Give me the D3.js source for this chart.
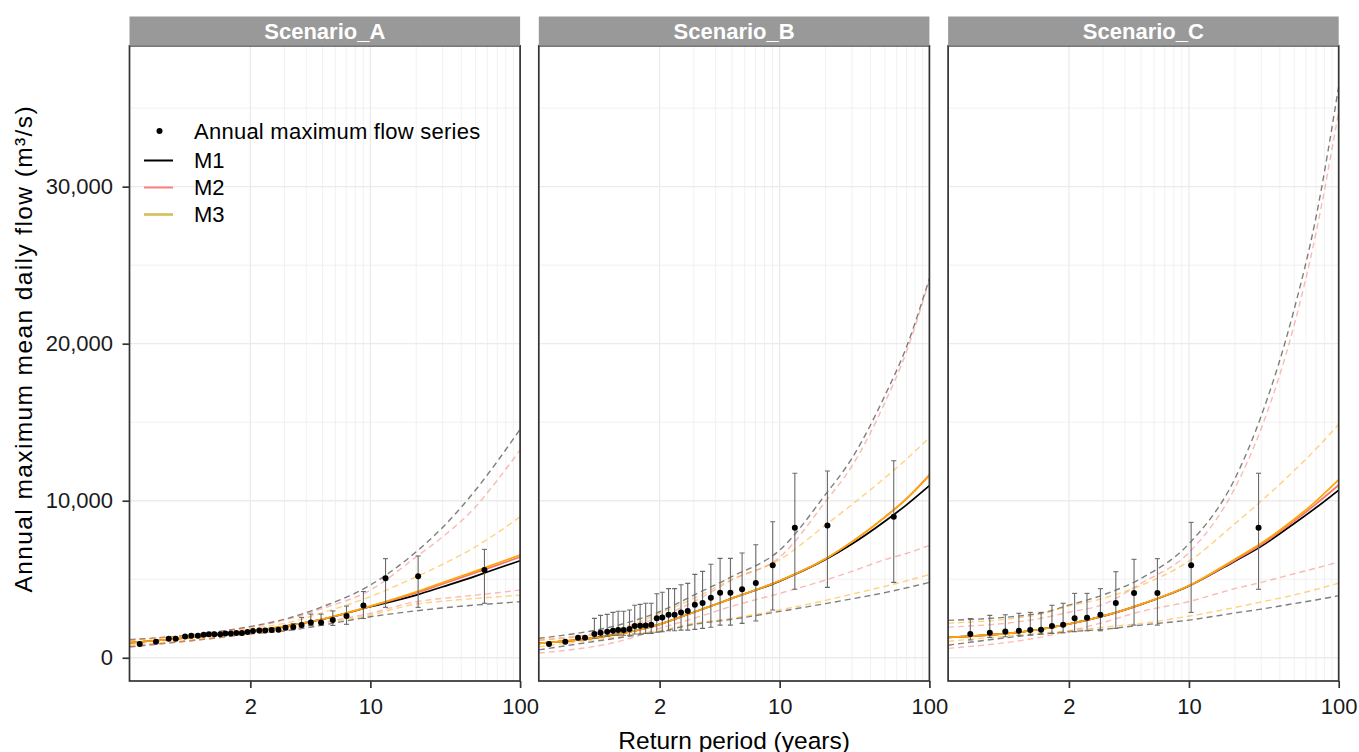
<!DOCTYPE html>
<html>
<head>
<meta charset="utf-8">
<script src="https://cdnjs.cloudflare.com/ajax/libs/d3/7.8.5/d3.min.js"></script>
<style>
  body { margin: 0; background: #fff; }
  text { font-family: "Liberation Sans", Arial, sans-serif; }
</style>
</head>
<body>
<svg width="1359" height="752"></svg>
<script>
/* Flood frequency curves, three scenarios, Gumbel probability x axis */

var scenarios = ["Scenario_A", "Scenario_B", "Scenario_C"];
var models = ["M1", "M2", "M3"];

// return periods where the fitted curves were read
var fitPeriods = [1.01, 1.5, 2, 3, 5, 10, 20, 30, 50, 70, 100];

// observed annual maxima (plotting positions) and their bars
var periodsA = [1.02, 1.05, 1.09, 1.12, 1.17, 1.21, 1.26, 1.31, 1.36, 1.42, 1.49, 1.56, 1.64, 1.73, 1.83, 1.94,
    2.06, 2.21, 2.37, 2.56, 2.78, 3.04, 3.36, 3.75, 4.25, 4.90, 5.78, 7.04, 9.02, 12.55, 20.59, 57.36];
var flowA = [870, 1020, 1210, 1210, 1360, 1400, 1400, 1470, 1490, 1490, 1490, 1550, 1550, 1570, 1570, 1640,
    1700, 1740, 1740, 1760, 1780, 1910, 1960, 2080, 2250, 2250, 2400, 2660, 3330, 5060, 5190, 5590];
var barLowA = [null, null, null, null, null, null, null, null, null, null, null, null, null, null, null, null,
    null, null, null, null, null, 1780, 1830, 1980, 2060, 2060, 2060, 2130, 2500, 3210, 3210, 3470];
var barHighA = [null, null, null, null, null, null, null, null, null, null, null, null, null, null, null, null,
    null, null, null, null, null, 2060, 2180, 2570, 2780, 2780, 2980, 3290, 4220, 6310, 6480, 6900];

var periodsB = periodsA;
var flowB = [870, 1020, 1270, 1270, 1510, 1590, 1660, 1720, 1760, 1760, 1830, 2020, 2040, 2060, 2100, 2510,
    2570, 2740, 2740, 2890, 2980, 3380, 3480, 3820, 4140, 4140, 4360, 4760, 5890, 8280, 8430, 8980];
var barLowB = [null, null, null, null, 1240, 1340, 1380, 1430, 1430, 1430, 1430, 1510, 1510, 1550, 1550, 1620,
    1660, 1720, 1720, 1760, 1760, 1810, 1870, 1940, 2080, 2080, 2190, 2340, 3040, 4360, 4480, 4800];
var barHighB = [null, null, null, null, 2510, 2700, 2760, 2890, 2960, 2960, 3040, 3340, 3400, 3470, 3470, 4080,
    4170, 4400, 4400, 4650, 4740, 5310, 5500, 5950, 6330, 6330, 6670, 7200, 8660, 11750, 11890, 12550];

var periodsC = [1.04, 1.10, 1.18, 1.28, 1.39, 1.52, 1.68, 1.88, 2.13, 2.46, 2.90, 3.54, 4.53, 6.30, 10.33, 28.79];
var flowC = [1510, 1590, 1680, 1720, 1760, 1780, 2020, 2100, 2510, 2550, 2740, 3480, 4120, 4120, 5890, 8280];
var barLowC = [1130, 1300, 1340, 1430, 1450, 1510, 1550, 1590, 1660, 1720, 1720, 1870, 2080, 2080, 2890, 4360];
var barHighC = [2490, 2700, 2740, 2830, 2890, 2890, 3340, 3470, 4100, 4100, 4400, 5480, 6270, 6310, 8620, 11750];

// fitted quantiles and confidence bounds, at fitPeriods
var A_M1 = [950, 1480, 1700, 2000, 2450, 3250, 3990, 4520, 5200, 5680, 6180];
var A_M2 = [950, 1480, 1700, 2000, 2460, 3270, 4120, 4700, 5420, 5900, 6420];
var A_M3 = [950, 1480, 1700, 2010, 2470, 3290, 4200, 4790, 5520, 6020, 6540];
var A_M1_lo = [700, 1300, 1530, 1700, 2080, 2610, 2990, 3170, 3360, 3460, 3570];
var A_M1_hi = [1150, 1690, 1990, 2450, 3250, 4630, 6750, 8300, 10680, 12500, 14550];
var A_M2_lo = [680, 1290, 1500, 1720, 2250, 2830, 3570, 3780, 3990, 4140, 4310];
var A_M2_hi = [1120, 1680, 1950, 2400, 3140, 4310, 6430, 7700, 9620, 11300, 13230];
var A_M3_lo = [800, 1330, 1560, 1750, 2190, 2720, 3420, 3600, 3780, 3880, 3990];
var A_M3_hi = [1080, 1650, 1870, 2190, 2870, 3890, 5160, 5950, 7070, 7950, 8980];

var B_M1 = [915, 1660, 2130, 2900, 3780, 4880, 6250, 7240, 8690, 9740, 10960];
var B_M2 = [915, 1660, 2130, 2900, 3780, 4900, 6300, 7380, 8960, 10130, 11650];
var B_M3 = [915, 1660, 2130, 2900, 3780, 4900, 6300, 7380, 8960, 10120, 11600];
var B_M1_lo = [500, 1380, 1660, 2130, 2450, 2950, 3450, 3750, 4150, 4450, 4800];
var B_M1_hi = [1240, 2290, 2930, 3990, 5160, 6850, 10400, 12700, 16700, 19800, 24150];
var B_M2_lo = [300, 1240, 1870, 2510, 3280, 4100, 4950, 5500, 6250, 6650, 7150];
var B_M2_hi = [1100, 1980, 2600, 3570, 4950, 6400, 9950, 12200, 16250, 19500, 24050];
var B_M3_lo = [700, 1450, 1720, 2190, 2510, 3050, 3650, 4050, 4550, 4900, 5300];
var B_M3_hi = [1150, 2080, 2830, 3780, 5000, 6250, 8450, 9750, 11460, 12650, 14010];

var C_M1 = [1300, 1800, 2150, 2650, 3400, 4570, 6150, 7100, 8550, 9550, 10680];
var C_M2 = [1300, 1800, 2150, 2650, 3400, 4580, 6200, 7200, 8700, 9780, 11000];
var C_M3 = [1300, 1800, 2150, 2660, 3410, 4600, 6280, 7300, 8820, 9960, 11340];
var C_M1_lo = [800, 1500, 1660, 1810, 2080, 2400, 2850, 3100, 3450, 3680, 3950];
var C_M1_hi = [2380, 2830, 3350, 4000, 5060, 7260, 11400, 15400, 22200, 28000, 36400];
var C_M2_lo = [600, 1300, 1700, 2250, 2950, 3580, 4400, 4800, 5350, 5700, 6100];
var C_M2_hi = [1950, 2500, 2900, 3400, 4740, 6700, 10800, 14600, 21200, 27000, 34800];
var C_M3_lo = [1050, 1560, 1720, 1940, 2190, 2650, 3200, 3550, 4000, 4350, 4750];
var C_M3_hi = [2200, 2760, 3300, 3780, 4610, 6150, 8530, 9980, 11920, 13290, 14870];

// axis breaks
var xMajor = [2, 10, 100];
var xMinor = [3, 4, 5, 6, 7, 8, 9, 20, 30, 40, 50, 60, 70, 80, 90];
var yMajor = [0, 10000, 20000, 30000];
var yMinor = [5000, 15000, 25000, 35000];

var lineColor = { M1: "#000000", M2: "#F8766D", M3: "#FFA500" };
var keyColor = { M1: "#000000", M2: "#FF7F7F", M3: "#D4BE55" };

var panels = [
    { name: scenarios[0], periods: periodsA, flow: flowA, low: barLowA, high: barHighA,
      fit: { M1: [A_M1, A_M1_lo, A_M1_hi], M2: [A_M2, A_M2_lo, A_M2_hi], M3: [A_M3, A_M3_lo, A_M3_hi] } },
    { name: scenarios[1], periods: periodsB, flow: flowB, low: barLowB, high: barHighB,
      fit: { M1: [B_M1, B_M1_lo, B_M1_hi], M2: [B_M2, B_M2_lo, B_M2_hi], M3: [B_M3, B_M3_lo, B_M3_hi] } },
    { name: scenarios[2], periods: periodsC, flow: flowC, low: barLowC, high: barHighC,
      fit: { M1: [C_M1, C_M1_lo, C_M1_hi], M2: [C_M2, C_M2_lo, C_M2_hi], M3: [C_M3, C_M3_lo, C_M3_hi] } }
];

var svg = d3.select("svg");

var panelLeft = 129.5, panelTop = 45.8,
    panelWidth = 390.6, panelHeight = 635.2,
    panelGap = 18.7, stripHeight = 29.3;

// Gumbel reduced variate of a return period
function gumbel(T) { return -Math.log(-Math.log(1 - 1 / T)); }

var x = d3.scaleLinear().domain([gumbel(1.01), gumbel(100)]).range([0, panelWidth]);
var y = d3.scaleLinear().domain([-1480, 38970]).range([panelHeight, 0]);

var line = d3.line()
    .x(function (d) { return x(gumbel(d[0])); })
    .y(function (d) { return y(d[1]); })
    .curve(d3.curveMonotoneX);

svg.append("defs").append("clipPath").attr("id", "clip")
    .append("rect").attr("width", panelWidth).attr("height", panelHeight);

panels.forEach(function (p, i) {
    var g = svg.append("g")
        .attr("transform", "translate(" + (panelLeft + i * (panelWidth + panelGap)) + "," + panelTop + ")");

    // grid
    var grid = g.append("g").attr("stroke", "#ebebeb");
    grid.selectAll(".hmin").data(yMinor).enter().append("line")
        .attr("x1", 0).attr("x2", panelWidth)
        .attr("y1", function (d) { return y(d); }).attr("y2", function (d) { return y(d); })
        .attr("stroke-width", 0.7);
    grid.selectAll(".vmin").data(xMinor).enter().append("line")
        .attr("y1", 0).attr("y2", panelHeight)
        .attr("x1", function (d) { return x(gumbel(d)); }).attr("x2", function (d) { return x(gumbel(d)); })
        .attr("stroke-width", 0.7);
    grid.selectAll(".hmaj").data(yMajor).enter().append("line")
        .attr("x1", 0).attr("x2", panelWidth)
        .attr("y1", function (d) { return y(d); }).attr("y2", function (d) { return y(d); })
        .attr("stroke-width", 1.3);
    grid.selectAll(".vmaj").data(xMajor).enter().append("line")
        .attr("y1", 0).attr("y2", panelHeight)
        .attr("x1", function (d) { return x(gumbel(d)); }).attr("x2", function (d) { return x(gumbel(d)); })
        .attr("stroke-width", 1.3);

    var plot = g.append("g").attr("clip-path", "url(#clip)");

    // confidence bounds
    models.forEach(function (m) {
        [1, 2].forEach(function (k) {
            plot.append("path")
                .datum(fitPeriods.map(function (T, j) { return [T, p.fit[m][k][j]]; }))
                .attr("d", line)
                .attr("fill", "none")
                .attr("stroke", lineColor[m])
                .attr("stroke-opacity", 0.5)
                .attr("stroke-width", 1.4)
                .attr("stroke-dasharray", "6,4");
        });
    });

    // fitted curves
    models.forEach(function (m) {
        plot.append("path")
            .datum(fitPeriods.map(function (T, j) { return [T, p.fit[m][0][j]]; }))
            .attr("d", line)
            .attr("fill", "none")
            .attr("stroke", lineColor[m])
            .attr("stroke-width", 1.7);
    });

    // error bars
    var bars = p.periods.map(function (T, j) { return { T: T, lo: p.low[j], hi: p.high[j] }; })
        .filter(function (d) { return d.lo != null; });
    var bar = plot.append("g").attr("stroke", "#6a6a6a").attr("stroke-width", 1.1)
        .selectAll("g").data(bars).enter().append("g");
    bar.append("line")
        .attr("x1", function (d) { return x(gumbel(d.T)); }).attr("x2", function (d) { return x(gumbel(d.T)); })
        .attr("y1", function (d) { return y(d.lo); }).attr("y2", function (d) { return y(d.hi); });
    ["lo", "hi"].forEach(function (k) {
        bar.append("line")
            .attr("x1", function (d) { return x(gumbel(d.T)) - 2.5; })
            .attr("x2", function (d) { return x(gumbel(d.T)) + 2.5; })
            .attr("y1", function (d) { return y(d[k]); })
            .attr("y2", function (d) { return y(d[k]); });
    });

    // observed points
    plot.selectAll("circle")
        .data(p.periods.map(function (T, j) { return [T, p.flow[j]]; }))
        .enter().append("circle")
        .attr("cx", function (d) { return x(gumbel(d[0])); })
        .attr("cy", function (d) { return y(d[1]); })
        .attr("r", 3)
        .attr("fill", "#000");

    g.append("rect")
        .attr("width", panelWidth).attr("height", panelHeight)
        .attr("fill", "none").attr("stroke", "#333333").attr("stroke-width", 1.7);

    // strip
    g.append("rect")
        .attr("y", -stripHeight).attr("width", panelWidth).attr("height", stripHeight)
        .attr("fill", "#999999");
    g.append("text")
        .attr("x", panelWidth / 2).attr("y", -stripHeight / 2)
        .attr("text-anchor", "middle").attr("dominant-baseline", "central")
        .attr("fill", "#ffffff").attr("font-weight", "bold").attr("font-size", "22px")
        .text(p.name);

    // x axis
    var xAxis = g.append("g")
        .attr("transform", "translate(0," + panelHeight + ")")
        .call(d3.axisBottom(x)
            .tickValues(xMajor.map(gumbel))
            .tickFormat(function (d, j) { return xMajor[j]; })
            .tickSize(7).tickPadding(10));
    styleAxis(xAxis);

    if (i === 0) {
        var yAxis = g.append("g")
            .call(d3.axisLeft(y).tickValues(yMajor).tickFormat(d3.format(","))
                .tickSize(7).tickPadding(9.5));
        styleAxis(yAxis);
    }
});

function styleAxis(a) {
    a.select(".domain").remove();
    a.selectAll(".tick line").attr("stroke", "#333333").attr("stroke-width", 1.7);
    a.selectAll(".tick text").attr("fill", "#1a1a1a").attr("font-size", "22px")
        .style("font-family", '"Liberation Sans", Arial, sans-serif');
}

// legend inside the first panel
var legend = svg.append("g");
legend.append("circle").attr("cx", 159.5).attr("cy", 131).attr("r", 3).attr("fill", "#000");
legend.append("text").attr("x", 194).attr("y", 131)
    .attr("dominant-baseline", "central").attr("font-size", "22px").attr("fill", "#000")
    .attr("letter-spacing", "0.25px")
    .text("Annual maximum flow series");
models.forEach(function (m, j) {
    var ky = 160.5 + j * 27;
    legend.append("line")
        .attr("x1", 144).attr("x2", 173).attr("y1", ky).attr("y2", ky)
        .attr("stroke", keyColor[m]).attr("stroke-width", j === 2 ? 2.6 : 2);
    legend.append("text").attr("x", 194).attr("y", ky)
        .attr("dominant-baseline", "central").attr("font-size", "22px").attr("fill", "#000")
        .text(m);
});

// axis titles
svg.append("text")
    .attr("x", panelLeft + (3 * panelWidth + 2 * panelGap) / 2).attr("y", 740)
    .attr("text-anchor", "middle").attr("dominant-baseline", "central")
    .attr("font-size", "24.5px").attr("fill", "#000")
    .text("Return period (years)");

svg.append("text")
    .attr("transform", "translate(23," + (panelTop - stripHeight + (panelHeight + stripHeight) / 2) + ") rotate(-90)")
    .attr("text-anchor", "middle").attr("dominant-baseline", "central")
    .attr("font-size", "24.5px").attr("fill", "#000").attr("letter-spacing", "1.4px")
    .text("Annual maximum mean daily flow (m³/s)");
</script>
</body>
</html>
